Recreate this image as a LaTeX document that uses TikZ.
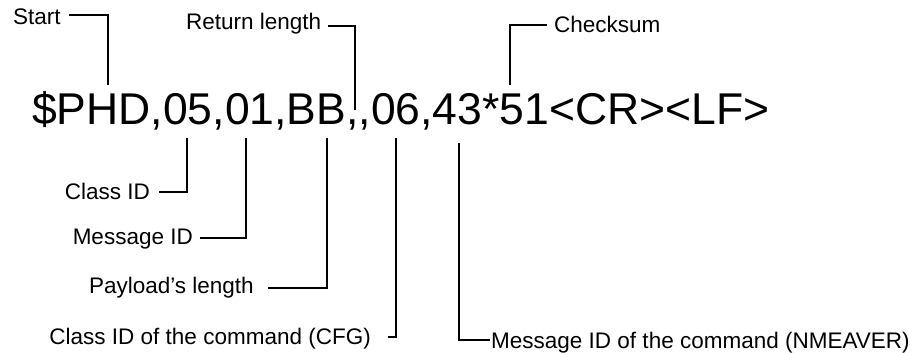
\documentclass[tikz,border=0pt]{standalone}
\usepackage{fontspec}
\setmainfont{Liberation Sans}
\begin{document}
\begin{tikzpicture}[x=1pt,y=-1pt,
  lbl/.style={inner sep=0pt,font=\fontsize{22.5}{27}\selectfont},
  conn/.style={line width=1.7pt,line join=miter}]
\useasboundingbox[fill=white] (0,0) rectangle (923,353);
\node[inner sep=0pt,anchor=base west,font=\fontsize{44.5}{52}\selectfont] (msg) at (32,124) {\$PHD,05,01,BB,{},06,43*51<CR><LF>};
% points on the message
\coordinate (pStart) at (108,85);
\coordinate (pRet) at (355,110);
\coordinate (pChk) at (510,85);
\coordinate (pCls) at (187,138);
\coordinate (pMsg) at (246,138);
\coordinate (pPay) at (327,138);
\coordinate (pCfg) at (396,138);
\coordinate (pNmea) at (459,143);
% labels
\node[lbl,anchor=base west] (start) at (13,25) {Start};
\node[lbl,anchor=base west] (ret) at (186,30) {Return length};
\node[lbl,anchor=base west] (chk) at (554,33) {Checksum};
\node[lbl,anchor=base east] (cls) at (150,199) {Class ID};
\node[lbl,anchor=base east] (mid) at (193,244) {Message ID};
\node[lbl,anchor=base east] (pay) at (254,293) {Payload’s length};
\node[lbl,anchor=base east] (cfg) at (371,344) {Class ID of the command (CFG)};
\node[lbl,anchor=base west] (nmea) at (491,348) {Message ID of the command (NMEAVER)};
% connectors
\draw[conn] ([xshift=8pt,yshift=10pt]start.base east) -| (pStart);
\draw[conn] ([xshift=7pt,yshift=4pt]ret.base east) -| (pRet);
\draw[conn] ([xshift=-7pt,yshift=8pt]chk.base west) -| (pChk);
\draw[conn] ([xshift=9pt,yshift=7pt]cls.base east) -| (pCls);
\draw[conn] ([xshift=7pt,yshift=6pt]mid.base east) -| (pMsg);
\draw[conn] ([xshift=14pt,yshift=5pt]pay.base east) -| (pPay);
\draw[conn] ([xshift=17pt,yshift=7pt]cfg.base east) -| (pCfg);
\draw[conn] ([xshift=-1pt,yshift=8pt]nmea.base west) -| (pNmea);
\end{tikzpicture}
\end{document}
